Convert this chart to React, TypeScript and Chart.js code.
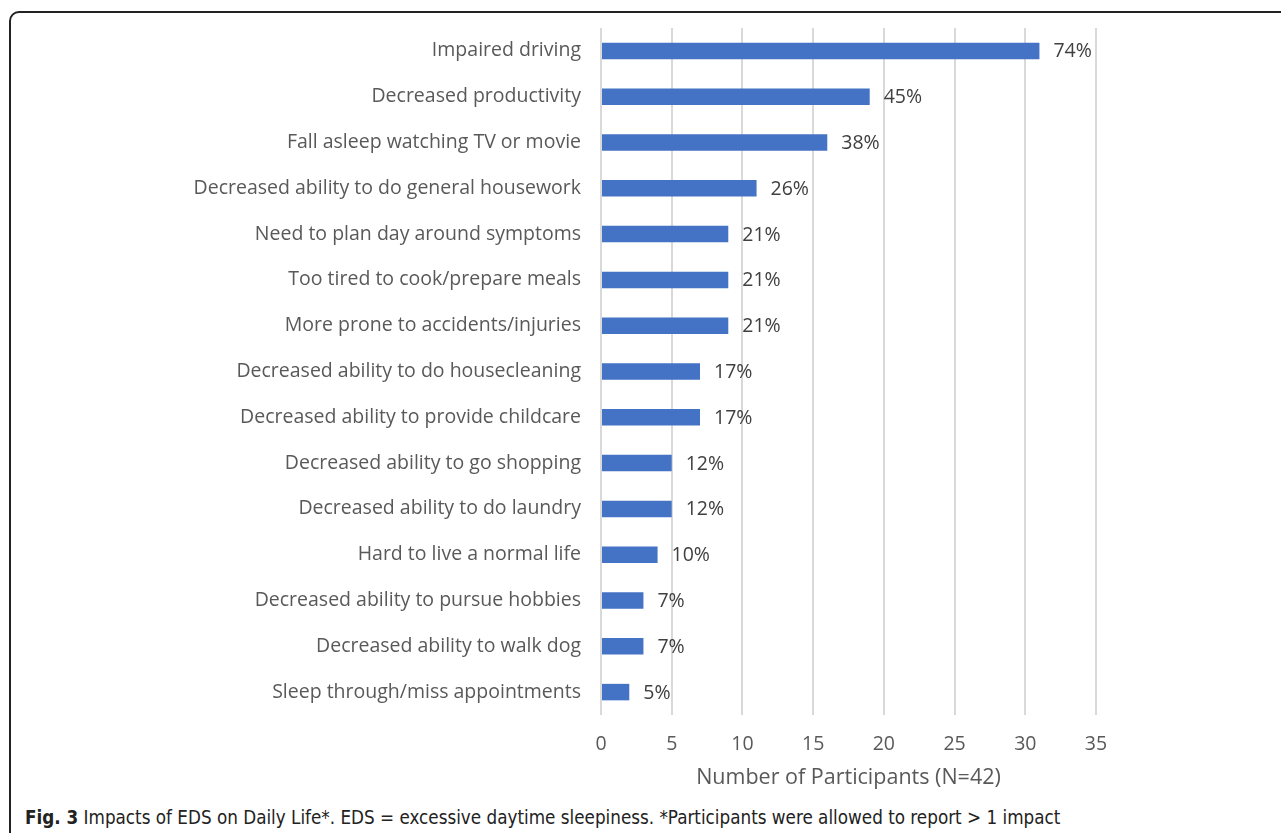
import React, { useEffect, useRef } from "react";
import { Chart, registerables } from "chart.js";

Chart.register(...registerables);

const categories = [
  "Impaired driving",
  "Decreased productivity",
  "Fall asleep watching TV or movie",
  "Decreased ability to do general housework",
  "Need to plan day around symptoms",
  "Too tired to cook/prepare meals",
  "More prone to accidents/injuries",
  "Decreased ability to do housecleaning",
  "Decreased ability to provide childcare",
  "Decreased ability to go shopping",
  "Decreased ability to do laundry",
  "Hard to live a normal life",
  "Decreased ability to pursue hobbies",
  "Decreased ability to walk dog",
  "Sleep through/miss appointments",
];
const participants = [31, 19, 16, 11, 9, 9, 9, 7, 7, 5, 5, 4, 3, 3, 2];
const percentLabels = ["74%", "45%", "38%", "26%", "21%", "21%", "21%", "17%", "17%", "12%", "12%", "10%", "7%", "7%", "5%"];
const xTicks = [0, 5, 10, 15, 20, 25, 30, 35];
const axisTitle = "Number of Participants (N=42)";

const FONT = "'Open Sans', 'Noto Sans', sans-serif";

const percentPlugin = {
  id: "percentLabels",
  afterDatasetsDraw(chart: any) {
    const { ctx } = chart;
    const meta = chart.getDatasetMeta(0);
    ctx.save();
    ctx.font = `19.5px ${FONT}`;
    ctx.fillStyle = "#404040";
    ctx.textAlign = "left";
    ctx.textBaseline = "middle";
    meta.data.forEach((bar: any, i: number) => {
      ctx.fillText(percentLabels[i], bar.x + 14, bar.y + 1);
    });
    ctx.restore();
  },
};

export default function App() {
  const ref = useRef<HTMLCanvasElement | null>(null);
  useEffect(() => {
    if (!ref.current) return;
    const chart = new Chart(ref.current, {
      type: "bar",
      data: {
        labels: categories,
        datasets: [
          {
            data: participants,
            backgroundColor: "#4472C4",
            categoryPercentage: 1,
            barPercentage: 0.36,
          },
        ],
      },
      options: {
        indexAxis: "y",
        animation: false,
        responsive: false,
        maintainAspectRatio: false,
        layout: { padding: { top: 28, right: 185, bottom: 0, left: 0 } },
        plugins: { legend: { display: false }, tooltip: { enabled: false } },
        scales: {
          x: {
            min: 0,
            max: 35,
            afterBuildTicks: (scale: any) => {
              scale.ticks = xTicks.map((v) => ({ value: v }));
            },
            afterFit: (scale: any) => {
              scale.height = 85;
              scale.paddingLeft = 0;
              scale.paddingRight = 0;
            },
            grid: { color: "#d9d9d9", lineWidth: 2, drawTicks: false },
            border: { display: false },
            ticks: {
              color: "#595959",
              font: { family: FONT, size: 19.5 },
              padding: 18,
            },
            title: {
              display: true,
              text: axisTitle,
              color: "#595959",
              font: { family: FONT, size: 21.5 },
              padding: { top: 0, bottom: 9 },
            },
          },
          y: {
            afterFit: (scale: any) => {
              scale.width = 601;
              scale.paddingTop = 0;
              scale.paddingBottom = 0;
            },
            grid: { display: false, drawTicks: false },
            border: { display: false },
            ticks: {
              color: "#595959",
              font: { family: FONT, size: 19.5 },
              padding: 20,
              autoSkip: false,
            },
          },
        },
      },
      plugins: [percentPlugin],
    });
    return () => chart.destroy();
  }, []);

  return (
    <div style={{ position: "fixed", left: 0, top: 0, width: 1281, height: 833, overflow: "hidden", background: "#fff" }}>
      <div
        style={{
          position: "absolute",
          left: 9,
          top: 11,
          width: 1400,
          height: 900,
          border: "2px solid #222",
          borderTopLeftRadius: 10,
        }}
      />
      <canvas ref={ref} width={1281} height={800} style={{ position: "absolute", left: 0, top: 0 }} />
      <div
        style={{
          position: "absolute",
          left: 25,
          top: 806,
          fontFamily: "'Liberation Sans Narrow', 'DejaVu Sans Condensed', sans-serif",
          fontSize: 18.7,
          color: "#222",
          whiteSpace: "nowrap",
          lineHeight: "24px",
        }}
      >
        <b>Fig. 3</b> Impacts of EDS on Daily Life*. EDS = excessive daytime sleepiness. *Participants were allowed to report &gt; 1 impact
      </div>
    </div>
  );
}
